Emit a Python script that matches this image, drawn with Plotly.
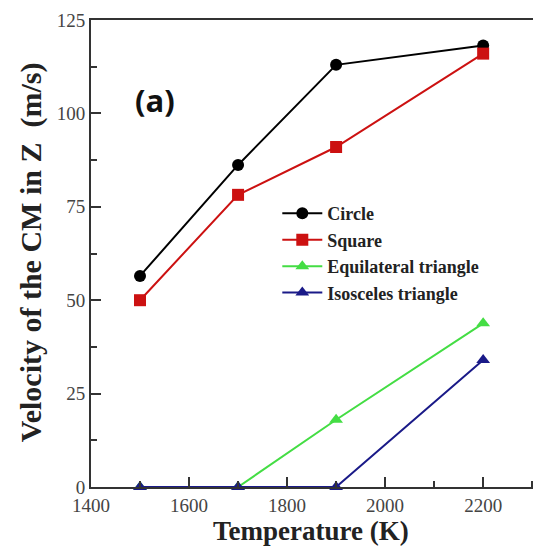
import plotly.graph_objects as go

temperature = [1500, 1700, 1900, 2200]
circle = [56.5, 86.2, 113.0, 118.2]
square = [50.0, 78.2, 91.0, 116.0]
equilateral = [0.0, 0.0, 18.0, 43.8]
isosceles = [0.0, 0.0, 0.0, 34.0]

series = [
    ("Circle", circle, "#000000", "circle"),
    ("Square", square, "#cc1111", "square"),
    ("Equilateral triangle", equilateral, "#44dd44", "triangle-up"),
    ("Isosceles triangle", isosceles, "#1a1a88", "triangle-up"),
]

fig = go.Figure()
for name, vals, color, sym in series:
    fig.add_trace(go.Scatter(
        x=temperature, y=vals, name="<b>" + name + "</b>", mode="lines+markers",
        line=dict(color=color, width=2),
        marker=dict(symbol=sym, size=12, color=color),
        cliponaxis=False,
    ))

serif = "Liberation Serif"
# page has an 8px body margin; the figure is sized to fill the rest of the window
fig.update_layout(
    width=533, height=539,
    margin=dict(l=83, r=0, t=12, b=60),
    paper_bgcolor="white", plot_bgcolor="white",
    showlegend=True,
    legend=dict(x=0.414, y=0.625, xanchor="left", yanchor="top",
                bgcolor="rgba(0,0,0,0)",
                font=dict(family=serif, size=18, color="#222"),
                itemwidth=40, tracegroupgap=0, traceorder="normal"),
    xaxis=dict(range=[1400, 2318], tickvals=[1400, 1600, 1800, 2000, 2200],
               ticks="inside", ticklen=10, tickwidth=2, tickcolor="#333",
               minor=dict(dtick=100, ticks="inside", ticklen=6, tickwidth=2, tickcolor="#333"),
               showline=True, linewidth=2, linecolor="#333", mirror=True,
               showgrid=False, zeroline=False, automargin=False,
               tickfont=dict(family=serif, size=19, color="#444")),
    yaxis=dict(range=[0, 125], tickvals=[0, 25, 50, 75, 100, 125],
               ticks="inside", ticklen=10, tickwidth=2, tickcolor="#333",
               minor=dict(dtick=12.5, ticks="inside", ticklen=6, tickwidth=2, tickcolor="#333"),
               showline=True, linewidth=2, linecolor="#333", mirror=False,
               showgrid=False, zeroline=False, automargin=False,
               tickfont=dict(family=serif, size=19, color="#444")),
    annotations=[
        dict(text="<b>(a)</b>", x=0.093, y=0.829, xref="paper", yref="paper",
             xanchor="left", yanchor="middle", showarrow=False,
             font=dict(family="Open Sans", size=31, color="#111")),
        dict(text="<b>Temperature (K)</b>", x=0.489, y=-0.094, xref="paper", yref="paper",
             xanchor="center", yanchor="middle", showarrow=False,
             font=dict(family=serif, size=27, color="#222")),
        dict(text="<b>Velocity of the CM in Z  (m/s)</b>", x=-0.133, y=0.503,
             xref="paper", yref="paper", xanchor="center", yanchor="middle",
             textangle=-90, showarrow=False,
             font=dict(family=serif, size=30, color="#222")),
    ],
)

fig.write_html("out.html")
